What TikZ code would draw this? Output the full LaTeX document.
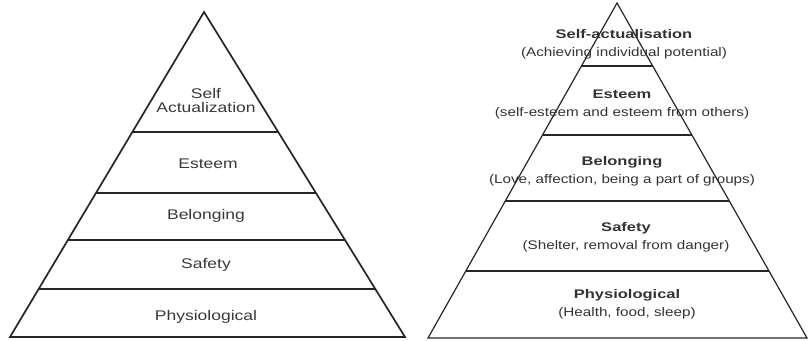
\documentclass[tikz,border=0pt]{standalone}
\usepackage{fontspec}
\usepackage{graphicx}
\setmainfont{Liberation Sans}
\usetikzlibrary{calc}
\newcommand\wideL[1]{\scalebox{1.25}[1]{#1}}
\newcommand\wideR[1]{\scalebox{1.22}[1]{#1}}
\newcommand\wideB[1]{\scalebox{1.32}[1]{\textbf{#1}}}
\begin{document}
\begin{tikzpicture}[x=1pt,y=-1pt,
  edgeL/.style={line width=1.7pt, black!85, line join=miter},
  edgeR/.style={line width=1.2pt, black!85, line join=miter},
  lblL/.style={text=black!78, font=\fontsize{14}{16}\selectfont, align=center, inner sep=0pt},
  lblR/.style={text=black!80, font=\fontsize{12.5}{18}\selectfont, align=center, inner sep=0pt}
]
\useasboundingbox (0,0) rectangle (808,340);
% ---------- left pyramid ----------
\coordinate (LA) at (204,12);
\coordinate (LBL) at (10,337);
\coordinate (LBR) at (405,337);
\draw[edgeL] (LA) -- (LBR) -- (LBL) -- cycle;
\foreach \t in {0.369,0.557,0.7015,0.852}{
  \draw[edgeL] ($(LA)!\t!(LBL)$) -- ($(LA)!\t!(LBR)$);
}
\node[lblL] (l5) at (206,100) {\wideL{Self}\\[-2pt]\wideL{Actualization}};
\node[lblL] (l4) at (208,164) {\wideL{Esteem}};
\node[lblL] (l3) at (206,216) {\wideL{Belonging}};
\node[lblL] (l2) at (206,265) {\wideL{Safety}};
\node[lblL] (l1) at (206,317) {\wideL{Physiological}};
% ---------- right pyramid ----------
\coordinate (RA) at (617,3);
\coordinate (RBL) at (428,338);
\coordinate (RBR) at (807,338);
\draw[edgeR] (RA) -- (RBR) -- (RBL) -- cycle;
\foreach \t in {0.188,0.394,0.591,0.8}{
  \draw[edgeR] ($(RA)!\t!(RBL)$) -- ($(RA)!\t!(RBR)$);
}
\node[lblR] (r5) at (624,44) {\wideB{Self-actualisation}\\\wideR{(Achieving individual potential)}};
\node[lblR] (r4) at (622,104) {\wideB{Esteem}\\\wideR{(self-esteem and esteem from others)}};
\node[lblR] (r3) at (622,171) {\wideB{Belonging}\\\wideR{(Love, affection, being a part of groups)}};
\node[lblR] (r2) at (626,237) {\wideB{Safety}\\\wideR{(Shelter, removal from danger)}};
\node[lblR] (r1) at (627,304) {\wideB{Physiological}\\\wideR{(Health, food, sleep)}};
\end{tikzpicture}
\end{document}
